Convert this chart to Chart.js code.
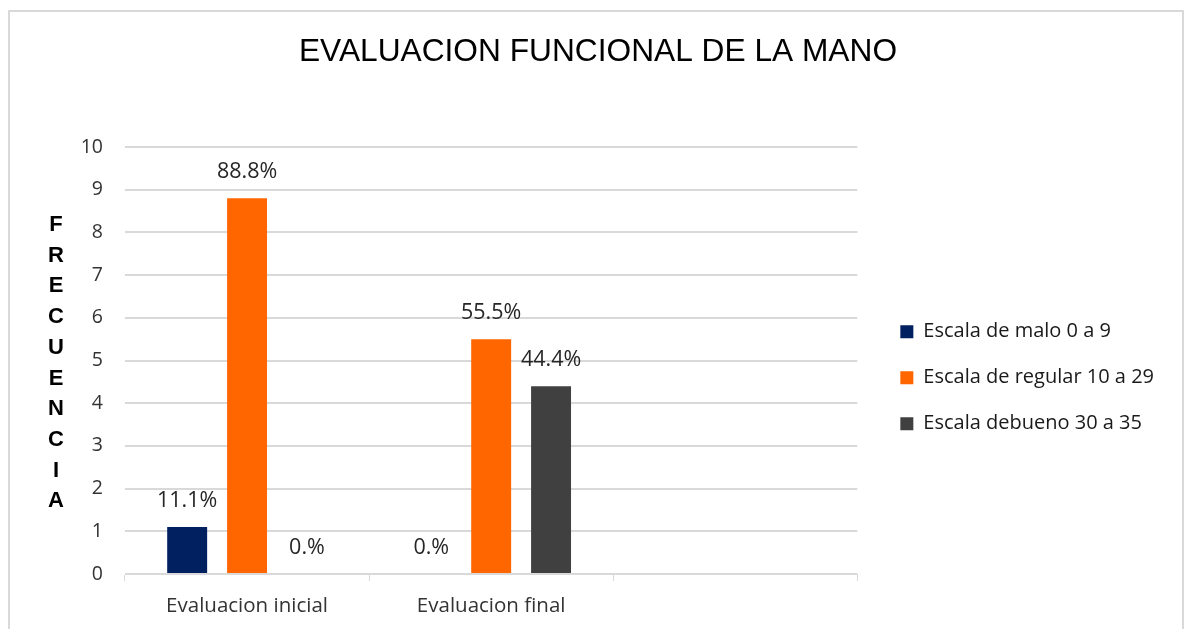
<!DOCTYPE html>
<html>
<head>
<meta charset="utf-8">
<script src="https://cdn.jsdelivr.net/npm/chart.js@4.4.1/dist/chart.umd.min.js"></script>
<style>
  html, body { margin: 0; padding: 0; background: #fff; }
  #frame {
    position: absolute; left: 8px; top: 10px; width: 1176px; height: 640px;
    border: 2px solid #d9d9d9; box-sizing: border-box;
  }
  #wrap { position: absolute; left: 0; top: 0; width: 1187px; height: 629px; }
</style>
</head>
<body>
<div id="frame"></div>
<div id="wrap"><canvas id="bar-chartcanvas"></canvas></div>
<script>
// categories (third slot is empty, like in the original sheet)
var categories = ["Evaluacion inicial", "Evaluacion final", ""];

// series values (frequency)
var maloValues    = [1.1, 0, null];
var regularValues = [8.8, 5.5, null];
var buenoValues   = [0, 4.4, null];

// text shown over each bar
var maloLabels    = ["11.1%", "0.%", ""];
var regularLabels = ["88.8%", "55.5%", ""];
var buenoLabels   = ["0.%", "44.4%", ""];

var axisTitleLetters = ["F", "R", "E", "C", "U", "E", "N", "C", "I", "A"];

// draws the percentage text above every bar
var barLabelsPlugin = {
	id: "barLabels",
	afterDatasetsDraw: function(chart) {
		var ctx = chart.ctx;
		ctx.save();
		ctx.font = "21.5px 'Open Sans'";
		ctx.fillStyle = "#262626";
		ctx.textAlign = "center";
		ctx.textBaseline = "middle";
		chart.data.datasets.forEach(function(ds, i) {
			var meta = chart.getDatasetMeta(i);
			meta.data.forEach(function(bar, j) {
				var txt = ds.barText[j];
				if (!txt) return;
				ctx.fillText(txt, bar.x, bar.y - 26);
			});
		});
		ctx.restore();
	}
};

// stacked letters for the y axis title
var stackedTitlePlugin = {
	id: "stackedTitle",
	afterDraw: function(chart) {
		var ctx = chart.ctx;
		ctx.save();
		ctx.font = "bold 22px 'Liberation Sans'";
		ctx.fillStyle = "#000";
		ctx.textAlign = "center";
		ctx.textBaseline = "middle";
		axisTitleLetters.forEach(function(l, i) {
			ctx.fillText(l, 56, 225 + i * 30.7);
		});
		ctx.restore();
	}
};

var data = {
	labels: categories,
	datasets: [
		{
			label: "Escala de malo 0 a 9",
			data: maloValues,
			barText: maloLabels,
			backgroundColor: "#002060"
		},
		{
			label: "Escala de regular 10 a 29",
			data: regularValues,
			barText: regularLabels,
			backgroundColor: "#FF6600"
		},
		{
			label: "Escala debueno 30 a 35",
			data: buenoValues,
			barText: buenoLabels,
			backgroundColor: "#404040"
		}
	]
};

var options = {
	responsive: false,
	animation: false,
	layout: {
		padding: { left: 32, right: 23, top: 0, bottom: 0 }
	},
	datasets: {
		bar: { categoryPercentage: 0.736, barPercentage: 0.667 }
	},
	plugins: {
		title: {
			display: true,
			text: "EVALUACION FUNCIONAL DE LA MANO",
			color: "#000",
			font: { family: "'Liberation Sans'", size: 31.7, weight: "normal" },
			padding: { top: 33, bottom: 76 }
		},
		legend: {
			display: true,
			position: "right",
			maxWidth: 340,
			title: {
				display: true,
				text: " ",
				font: { size: 12 },
				padding: { top: 56, bottom: 56 }
			},
			labels: {
				boxWidth: 13,
				boxHeight: 13,
				padding: 26,
				color: "#1a1a1a",
				font: { family: "'Open Sans'", size: 20 }
			}
		},
		tooltip: { enabled: false }
	},
	scales: {
		x: {
			afterFit: function(scale) { scale.height = 55; },
			grid: {
				drawOnChartArea: false,
				drawTicks: true,
				tickLength: 7,
				color: "#d9d9d9"
			},
			border: { display: true, color: "#d9d9d9", width: 1 },
			ticks: {
				color: "#333",
				padding: 13,
				font: { family: "'Open Sans'", size: 20.5 }
			}
		},
		y: {
			min: 0,
			max: 10,
			afterFit: function(scale) { scale.width = 93; },
			ticks: {
				stepSize: 1,
				padding: 22,
				color: "#333",
				font: { family: "'Open Sans'", size: 19.5 }
			},
			grid: { color: "#d9d9d9", drawTicks: false, lineWidth: 2 },
			border: { display: false }
		},
		// empty axis on the right, only keeps the gap before the legend
		gap: {
			type: "linear",
			position: "right",
			afterFit: function(scale) { scale.width = 17; },
			ticks: { display: false },
			grid: { display: false },
			border: { display: false }
		}
	}
};

var canvas = document.getElementById("bar-chartcanvas");
canvas.width = 1187;
canvas.height = 629;

var chart = new Chart(canvas, {
	type: "bar",
	data: data,
	options: options,
	plugins: [barLabelsPlugin, stackedTitlePlugin]
});
</script>
</body>
</html>
